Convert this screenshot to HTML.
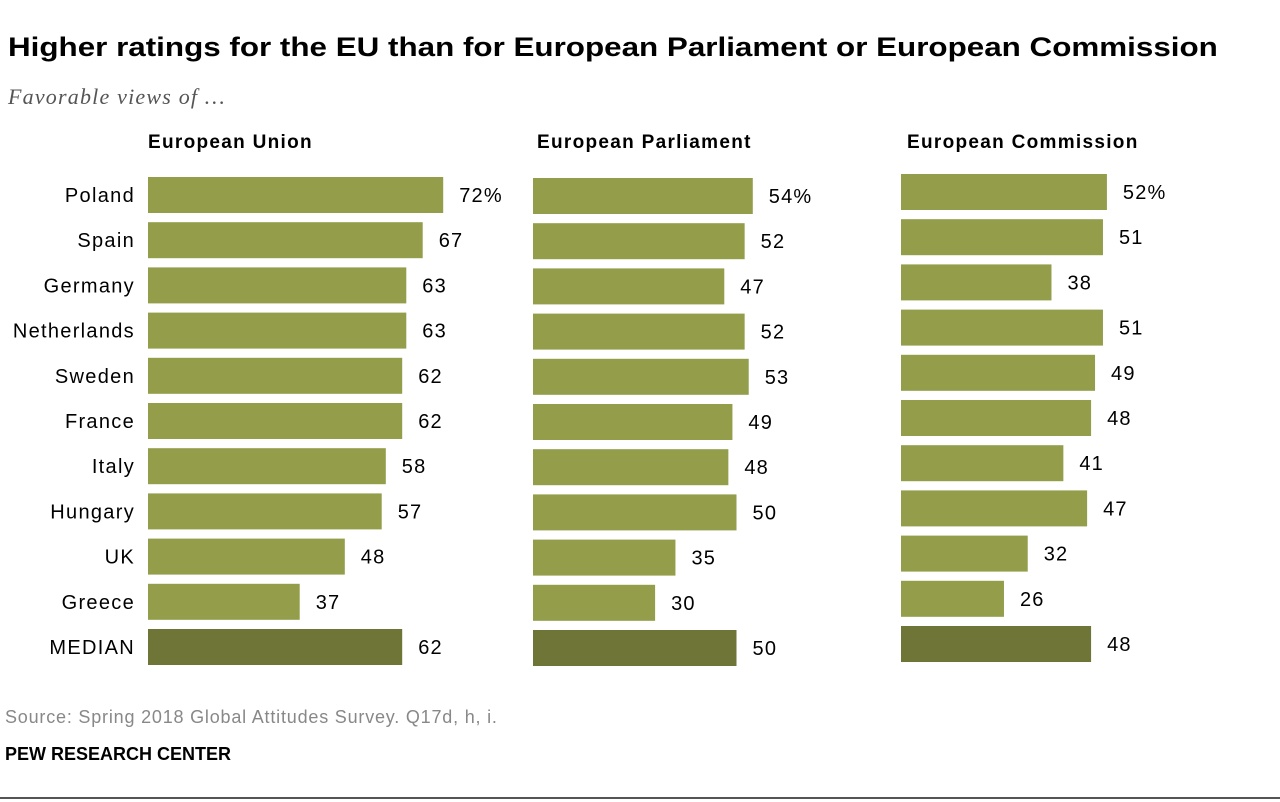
<!DOCTYPE html>
<html><head><meta charset="utf-8">
<style>
body{margin:0;width:1280px;height:802px;background:#fff;font-family:"Liberation Sans",sans-serif;overflow:hidden;position:relative}
#t{position:absolute;left:8px;top:32px;font-size:27px;font-weight:bold;color:#000;transform:scaleX(1.162);transform-origin:left;white-space:nowrap}
#st{position:absolute;left:8px;top:84px;font-family:"Liberation Serif",serif;font-style:italic;font-size:22px;color:#555;letter-spacing:1.2px}
#src{position:absolute;left:5px;top:707px;font-size:18px;color:#888;letter-spacing:0.8px}
#pew{position:absolute;left:5px;top:744px;font-size:18px;font-weight:bold;color:#000}
#rule{position:absolute;left:0;top:797px;width:1280px;height:2px;background:#555}
</style></head><body>
<div id="t">Higher ratings for the EU than for European Parliament or European Commission</div>
<div id="st">Favorable views of …</div>
<svg id="chart" width="1280" height="700" style="position:absolute;left:0;top:0"></svg>
<div id="src">Source: Spring 2018 Global Attitudes Survey. Q17d, h, i.</div>
<div id="pew">PEW RESEARCH CENTER</div>
<div id="rule"></div>
<script>
const countries=["Poland","Spain","Germany","Netherlands","Sweden","France","Italy","Hungary","UK","Greece","MEDIAN"];
const panelTitles=["European Union","European Parliament","European Commission"];
const euValues=[72,67,63,63,62,62,58,57,48,37,62];
const parlValues=[54,52,47,52,53,49,48,50,35,30,50];
const commValues=[52,51,38,51,49,48,41,47,32,26,48];
const series=[euValues,parlValues,commValues];
const panels=[{x0:148,scale:4.1,y0:195,title:148},{x0:533,scale:4.07,y0:196,title:537},{x0:901,scale:3.96,y0:192,title:907}];
const ns="http://www.w3.org/2000/svg";
const svg=document.getElementById('chart');
const step=45.2,bh=36;
function mk(tag,attrs,txt){const e=document.createElementNS(ns,tag);for(const k in attrs)e.setAttribute(k,attrs[k]);if(txt!==undefined)e.textContent=txt;svg.appendChild(e);return e;}
countries.forEach((c,i)=>{
  const t=mk('text',{x:135,y:195+i*step+7,'text-anchor':'end','font-size':20,'letter-spacing':1.3,fill:'#000'},c);
  
  
});
panels.forEach((p,pi)=>{
  const h=mk('text',{x:p.title,y:148,'font-size':19,'font-weight':'bold','letter-spacing':1.3,fill:'#000'},panelTitles[pi]);
  
  
  series[pi].forEach((v,i)=>{
    const cy=p.y0+i*step;
    const xs=v=>p.x0+v*p.scale;
    const r=mk('rect',{x:p.x0,y:cy-bh/2,width:xs(v)-p.x0,height:bh,fill:i===10?'#6f7536':'#939d4a'});
    
    
    const lb=mk('text',{x:xs(v)+16,y:cy+7,'font-size':20,'letter-spacing':1.2,fill:'#000'},v+(i===0?'%':''));
    
    
  });
});
</script>
</body></html>
